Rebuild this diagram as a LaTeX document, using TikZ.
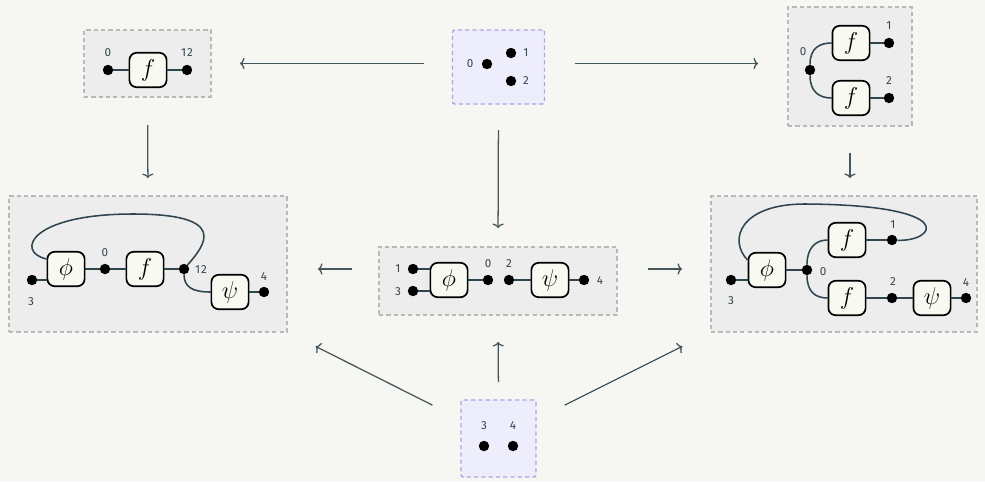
\documentclass[tikz,border=0pt]{standalone}
\usepackage{fontspec}
\setmainfont{Fira Sans}
\newfontfamily\lblfont[LetterSpace=8]{Fira Sans}
\usepackage{amsmath}
\usetikzlibrary{calc,arrows.meta}
\definecolor{bgcol}{HTML}{F6F7F2}
\definecolor{panelgray}{HTML}{EDEDED}
\definecolor{panelgrayline}{HTML}{B8B8B8}
\definecolor{panelpurple}{HTML}{EEEDFB}
\definecolor{panelpurpleline}{HTML}{A9A6E4}
\definecolor{gatefill}{HTML}{F8F9F0}
\definecolor{wirecol}{HTML}{2E4550}
\definecolor{arrowcol}{HTML}{46565D}
\definecolor{labelcol}{HTML}{36464E}
\newcommand{\pxu}{0.025cm}

\tikzset{
  panel/.style={draw=panelgrayline, fill=panelgray, dash pattern=on 3pt off 2.2pt,
    line width=1pt, inner sep=0pt, outer sep=0pt},
  inpanel/.style={panel, draw=panelpurpleline, fill=panelpurple, rounded corners=1.5pt},
  gate/.style={draw=black, fill=gatefill, line width=1.2pt, rounded corners=0.18cm,
    minimum width=0.93cm, minimum height=0.86cm, inner sep=0pt,
    font=\fontsize{18}{18}\selectfont},
  port/.style={circle, fill=black, minimum size=0.26cm, inner sep=0pt},
  lbl/.style={font=\lblfont\fontsize{8.3}{9}\selectfont, text=labelcol, inner sep=0pt},
  wire/.style={draw=wirecol, line width=1.1pt},
  arr/.style={draw=arrowcol, line width=0.9pt, -{To[length=3.2pt,width=8pt]}}
}

\begin{document}
\begin{tikzpicture}[x=\pxu,y=-\pxu]
  \fill[bgcol] (0,0) rectangle (985,482);
  \useasboundingbox (0,0) rectangle (985,482);

  % panels
  \node[inpanel, minimum width=92*\pxu, minimum height=74*\pxu] (pTop) at (498.5,67) {};
  \node[panel, minimum width=127*\pxu, minimum height=67*\pxu] (pL1) at (147.5,63.5) {};
  \node[panel, minimum width=124*\pxu, minimum height=119*\pxu] (pR1) at (850,66.5) {};
  \node[panel, minimum width=278*\pxu, minimum height=136*\pxu] (pL2) at (148,264) {};
  \node[panel, minimum width=238*\pxu, minimum height=68*\pxu] (pMid) at (498,281) {};
  \node[panel, minimum width=266*\pxu, minimum height=136*\pxu] (pR2) at (844,264) {};
  \node[inpanel, minimum width=75*\pxu, minimum height=77*\pxu] (pBot) at (498.5,438.5) {};

  % top: three ports
  \node[port] (t0) at (487,64) {};
  \node[port] (t1) at (511,53) {};
  \node[port] (t2) at (511,81) {};
  \node[lbl] (lt0) at (470,64) {0};
  \node[lbl] (lt1) at (526,53) {1};
  \node[lbl] (lt2) at (526,81) {2};

  % top left: f merged
  \node[port] (a0) at (108,70) {};
  \node[gate] (fA) at (148,70) {$f$};
  \node[port] (a12) at (187,70) {};
  \draw[wire] (a0) -- (fA);
  \draw[wire] (fA) -- (a12);
  \node[lbl] (la0) at (108,53) {0};
  \node[lbl] (la12) at (187,53) {12};

  % top right: f copied
  \node[port] (b0) at (810,70) {};
  \node[gate] (fB1) at (851,43) {$f$};
  \node[gate] (fB2) at (851,98) {$f$};
  \node[port] (b1) at (889,43) {};
  \node[port] (b2) at (889,98) {};
  \draw[wire] (b0) .. controls +(0,-22) and +(-12,0) .. (fB1.west);
  \draw[wire] (b0) .. controls +(0,22) and +(-12,0) .. (fB2.west);
  \draw[wire] (fB1) -- (b1);
  \draw[wire] (fB2) -- (b2);
  \node[lbl] (lb0) at (803,52) {0};
  \node[lbl] (lb1) at (889,26) {1};
  \node[lbl] (lb2) at (889,81) {2};

  % middle left
  \node[port] (c3) at (32,280) {};
  \node[gate] (phiL) at (66,269) {$\phi$};
  \node[port] (c0) at (105,269) {};
  \node[gate] (fC) at (145,269) {$f$};
  \node[port] (c12) at (184,269) {};
  \node[gate] (psiL) at (230,292) {$\psi$};
  \node[port] (c4) at (264,292) {};
  \draw[wire] (c3) -- (c3 -| phiL.west);
  \draw[wire] (phiL) -- (c0);
  \draw[wire] (c0) -- (fC);
  \draw[wire] (fC) -- (c12);
  \draw[wire] (psiL) -- (c4);
  \draw[wire] (c12) .. controls +(0,18) and +(-18,0) .. (psiL.west);
  \draw[wire] ([yshift=0.25cm]phiL.west) .. controls (15,252) and (30,214) .. (133,214)
    .. controls (230,214) and (205,245) .. (c12);
  \node[lbl] (lc3) at (31,302) {3};
  \node[lbl] (lc0) at (105,253) {0};
  \node[lbl] (lc12) at (201,270) {12};
  \node[lbl] (lc4) at (264,277) {4};

  % middle
  \node[port] (m1) at (413,269) {};
  \node[port] (m3) at (413,291) {};
  \node[gate] (phiM) at (449,280) {$\phi$};
  \node[port] (m0) at (488,280) {};
  \node[port] (m2) at (509,280) {};
  \node[gate] (psiM) at (550,280) {$\psi$};
  \node[port] (m4) at (584,280) {};
  \draw[wire] (m1) -- (m1 -| phiM.west);
  \draw[wire] (m3) -- (m3 -| phiM.west);
  \draw[wire] (phiM) -- (m0);
  \draw[wire] (m2) -- (psiM);
  \draw[wire] (psiM) -- (m4);
  \node[lbl] (lm1) at (398,269) {1};
  \node[lbl] (lm3) at (398,292) {3};
  \node[lbl] (lm0) at (488,264) {0};
  \node[lbl] (lm2) at (509,264) {2};
  \node[lbl] (lm4) at (600,281) {4};

  % middle right
  \node[port] (r3) at (731,280) {};
  \node[gate] (phiR) at (767,270) {$\phi$};
  \node[port] (r0) at (807,270) {};
  \node[gate] (fR1) at (847,240) {$f$};
  \node[gate] (fR2) at (847,298) {$f$};
  \node[port] (r1) at (892,240) {};
  \node[port] (r2) at (892,298) {};
  \node[gate] (psiR) at (932,298) {$\psi$};
  \node[port] (r4) at (966,298) {};
  \draw[wire] (r3) -- (r3 -| phiR.west);
  \draw[wire] (phiR) -- (r0);
  \draw[wire] (r0) .. controls +(0,-22) and +(-12,0) .. (fR1.west);
  \draw[wire] (r0) .. controls +(0,22) and +(-12,0) .. (fR2.west);
  \draw[wire] (fR1) -- (r1);
  \draw[wire] (fR2) -- (r2);
  \draw[wire] (r2) -- (psiR);
  \draw[wire] (psiR) -- (r4);
  \draw[wire] ([yshift=0.25cm]phiR.west) .. controls (728,240) and (740,204) .. (805,204)
    .. controls (962,205) and (935,242) .. (r1);
  \node[lbl] (lr3) at (731,301) {3};
  \node[lbl] (lr0) at (823,272) {0};
  \node[lbl] (lr1) at (893,225) {1};
  \node[lbl] (lr2) at (893,282) {2};
  \node[lbl] (lr4) at (966,283) {4};

  % bottom: two ports
  \node[port] (z3) at (484,446) {};
  \node[port] (z4) at (513,446) {};
  \node[lbl] (lz3) at (484,426) {3};
  \node[lbl] (lz4) at (513,426) {4};

  % arrows
  \draw[arr, shorten <=0.7cm, shorten >=0.725cm] (pTop.west |- pL1) -- (pL1.east);
  \draw[arr, shorten <=0.75cm, shorten >=0.75cm] (pTop.east |- pL1) -- (pR1.west |- pL1);
  \draw[arr, shorten <=0.65cm, shorten >=0.475cm] (pTop.south) -- (pMid.north);
  \draw[arr, shorten <=0.7cm, shorten >=0.45cm] (pL1.south) -- (pL2.north);
  \draw[arr, shorten <=0.675cm, shorten >=0.45cm] (pR1.south) -- (pR1.south |- pR2.north);
  \draw[arr, shorten <=0.675cm, shorten >=0.775cm] (pMid.west |- m1) -- (pL2.east |- m1);
  \draw[arr, shorten <=0.775cm, shorten >=0.725cm] (pMid.east |- m1) -- (pR2.west |- m1);
  \draw[arr, shorten <=0.8cm, shorten >=0.8cm] ($(pBot.west)+(0,-19)$) -- (pL2.south east);
  \draw[arr, shorten <=0.45cm, shorten >=0.675cm] (pBot.north) -- (pMid.south);
  \draw[arr, shorten <=0.8cm, shorten >=0.8cm] ($(pBot.east)+(0,-19)$) -- (pR2.south west);
\end{tikzpicture}
\end{document}
